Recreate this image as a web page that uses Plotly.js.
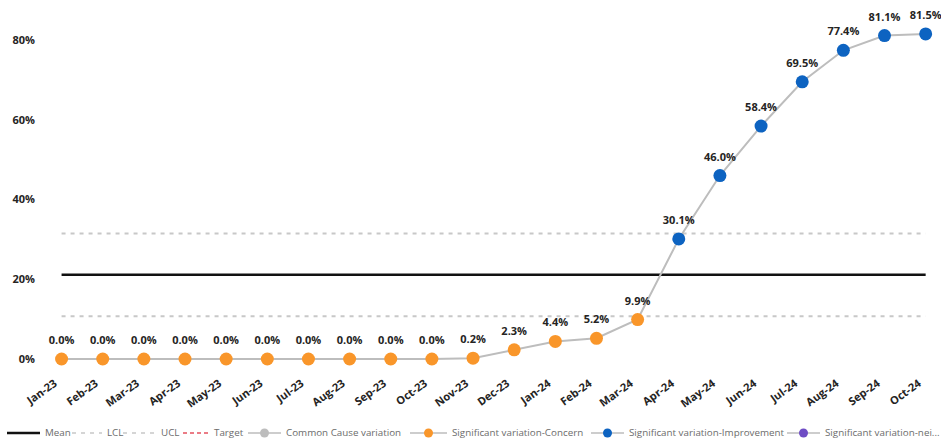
<!DOCTYPE html>
<html>
<head>
<meta charset="utf-8">
<script src="https://cdn.plot.ly/plotly-3.0.1.min.js"></script>
<style>html,body{margin:0;padding:0;background:#fff;}#chart{width:941px;height:443px;}</style>
</head>
<body>
<div id="chart"></div>
<script>
const months = ["Jan-23","Feb-23","Mar-23","Apr-23","May-23","Jun-23","Jul-23","Aug-23","Sep-23","Oct-23","Nov-23","Dec-23","Jan-24","Feb-24","Mar-24","Apr-24","May-24","Jun-24","Jul-24","Aug-24","Sep-24","Oct-24"];
const values = [0.0,0.0,0.0,0.0,0.0,0.0,0.0,0.0,0.0,0.0,0.2,2.3,4.4,5.2,9.9,30.1,46.0,58.4,69.5,77.4,81.1,81.5];
const status = ["concern","concern","concern","concern","concern","concern","concern","concern","concern","concern","concern","concern","concern","concern","concern","improvement","improvement","improvement","improvement","improvement","improvement","improvement"];
const meanValue = 21.1;
const uclValue = 31.5;
const lclValue = 10.7;
const yTicks = [0,20,40,60,80];
const yTickLabels = ["0%","20%","40%","60%","80%"];
const legendNames = ["Mean","LCL","UCL","Target","Common Cause variation","Significant variation-Concern","Significant variation-Improvement","Significant variation-nei..."];

const GRAY = "#BDBDBD", ORANGE = "#F9962A", BLUE = "#0D63C1", PURPLE = "#6E4CC4", RED = "#E5515F";
const idx = months.map((m,i)=>i);
const constArr = v => months.map(()=>v);
const pick = s => idx.filter(i=>status[i]===s);
const concernIdx = pick("concern"), impIdx = pick("improvement");

const traces = [
  {x: idx, y: constArr(meanValue), mode:"lines", name:"Mean", line:{color:"#111111", width:2.5}, hoverinfo:"skip"},
  {x: idx, y: constArr(lclValue), mode:"lines", name:"LCL", line:{color:"#C8C8C8", width:2, dash:"4px,5px"}, hoverinfo:"skip"},
  {x: idx, y: constArr(uclValue), mode:"lines", name:"UCL", line:{color:"#C8C8C8", width:2, dash:"4px,5px"}, hoverinfo:"skip"},
  {x: idx, y: values, mode:"lines+markers+text", name:"values", line:{color:GRAY, width:2},
   marker:{size:18, color:"rgba(0,0,0,0)"},
   text: values.map(v=>v.toFixed(1)+"%"), textposition:"top center", cliponaxis:false,
   textfont:{family:"Open Sans, sans-serif", size:11, color:"#252423", weight:"bold"}},
  {x: concernIdx, y: concernIdx.map(i=>values[i]), mode:"markers", name:"Significant variation-Concern", marker:{color:ORANGE, size:13}, cliponaxis:false},
  {x: impIdx, y: impIdx.map(i=>values[i]), mode:"markers", name:"Significant variation-Improvement", marker:{color:BLUE, size:13}, cliponaxis:false}
];

// Manual legend (pixel layout converted to paper coordinates)
const M = {l:41, r:3, t:20, b:78};
const PW = 941 - M.l - M.r, PH = 443 - M.t - M.b;
const px = x => (x - M.l) / PW;
const py = y => (443 - M.b - y) / PH;
const legY = 433;
const legSym = [
  {x0:7,   x1:40,  color:"#111111", width:2.5, dash:"solid"},
  {x0:72,  x1:102, color:"#C8C8C8", width:1.5, dash:"4px,5px"},
  {x0:123, x1:156, color:"#C8C8C8", width:1.5, dash:"4px,5px"},
  {x0:183, x1:209, color:RED,       width:1.5, dash:"4px,3px"},
  {x0:248, x1:281, color:GRAY,      width:1.5, dash:"solid", marker:GRAY},
  {x0:410, x1:447, color:GRAY,      width:1.5, dash:"solid", marker:ORANGE},
  {x0:591, x1:624, color:GRAY,      width:1.5, dash:"solid", marker:BLUE},
  {x0:787, x1:820, color:GRAY,      width:1.5, dash:"solid", marker:PURPLE}
];
const shapes = [], annotations = [];
legSym.forEach((s,i)=>{
  shapes.push({type:"line", xref:"paper", yref:"paper", x0:px(s.x0), x1:px(s.x1), y0:py(legY), y1:py(legY),
    line:{color:s.color, width:s.width, dash:s.dash}});
  if (s.marker) {
    shapes.push({type:"circle", xref:"paper", yref:"paper", xsizemode:"pixel", ysizemode:"pixel",
      xanchor:px((s.x0+s.x1)/2), yanchor:py(legY), x0:-4.5, x1:4.5, y0:-4.5, y1:4.5,
      fillcolor:s.marker, line:{width:0}});
  }
  annotations.push({xref:"paper", yref:"paper", x:px(s.x1+2.5), y:py(legY), xanchor:"left", yanchor:"middle",
    text:legendNames[i], showarrow:false, font:{family:"Open Sans, sans-serif", size:9.8, color:"#6B6B6B"}});
});

const layout = {
  width: 941, height: 443,
  margin: M,
  paper_bgcolor:"#ffffff", plot_bgcolor:"#ffffff",
  font:{family:"Open Sans, sans-serif", color:"#252423"},
  showlegend:false,
  shapes: shapes, annotations: annotations,
  xaxis:{range:[-0.5,21.3], tickvals: idx, ticktext: months, tickangle:-36, showgrid:false, zeroline:false, showline:false,
    ticks:"", ticklabelshift:-7, ticklabelstandoff:9, tickfont:{size:11, color:"#252423", weight:"bold"}, fixedrange:true},
  yaxis:{range:[-1.5,85], tickvals: yTicks, ticktext: yTickLabels, showgrid:false, zeroline:false, showline:false,
    ticks:"", ticklabelstandoff:5, tickfont:{size:11, color:"#252423", weight:"bold"}, fixedrange:true}
};

Plotly.newPlot("chart", traces, layout, {displayModeBar:false, staticPlot:true});
</script>
</body>
</html>
